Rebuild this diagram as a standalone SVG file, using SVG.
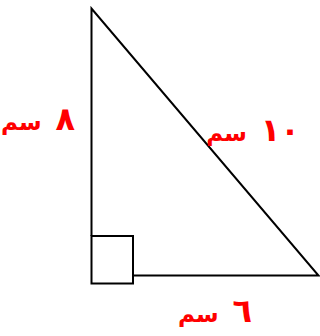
<svg xmlns="http://www.w3.org/2000/svg" width="320" height="336" viewBox="0 0 320 336">
<style>
.ln{fill:none;stroke:#000;stroke-width:2}
.lbl{font-family:"DejaVu Sans",sans-serif;font-weight:bold;font-size:23px;fill:#ff0000;text-anchor:middle;word-spacing:6px}
.num{font-size:32px}
</style>
<rect width="320" height="336" fill="#fff"/>
<g id="triangle">
<polyline class="ln" points="91.5,236 91.5,8.5 318.5,275.5 133,275.5"/>
</g>
<g id="right-angle">
<rect class="ln" x="91.5" y="236" width="41.5" height="47.5"/>
</g>
<g id="labels">
<text class="lbl" x="38" y="130" direction="rtl"><tspan class="num">٨</tspan> سم</text>
<text class="lbl" x="253" y="141" direction="rtl"><tspan class="num">١٠</tspan> سم</text>
<text class="lbl" x="215" y="322" direction="rtl"><tspan class="num">٦</tspan> سم</text>
</g>
</svg>
